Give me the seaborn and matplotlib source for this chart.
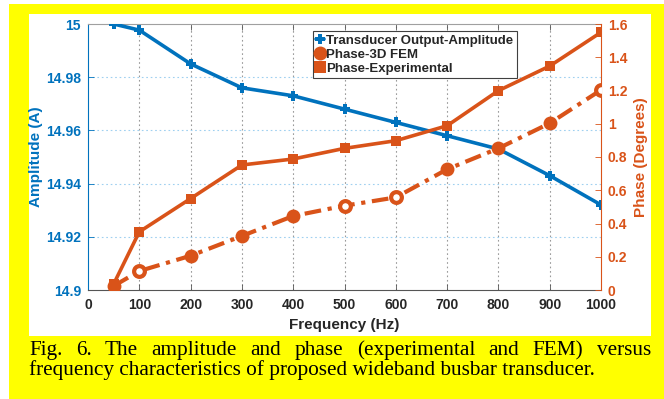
import matplotlib
matplotlib.use("Agg")
import matplotlib.pyplot as plt
import seaborn as sns
import pandas as pd
from matplotlib.patches import Rectangle
from matplotlib.lines import Line2D

# ---- data ----
freq = [50, 100, 200, 300, 400, 500, 600, 700, 800, 900, 1000]
amplitude = [15.000, 14.9977, 14.985, 14.976, 14.973, 14.968, 14.963, 14.958, 14.953, 14.943, 14.932]
phase_fem = [0.024, 0.114, 0.206, 0.325, 0.445, 0.507, 0.557, 0.726, 0.852, 1.003, 1.203]
phase_exp = [0.036, 0.35, 0.55, 0.752, 0.788, 0.852, 0.898, 0.988, 1.199, 1.347, 1.55]
series_names = ["Transducer Output-Amplitude", "Phase-3D FEM", "Phase-Experimental"]
x_ticks = [0, 100, 200, 300, 400, 500, 600, 700, 800, 900, 1000]
amp_ticks = [14.9, 14.92, 14.94, 14.96, 14.98, 15.0]
amp_tick_labels = ["14.9", "14.92", "14.94", "14.96", "14.98", "15"]
phase_ticks = [0, 0.2, 0.4, 0.6, 0.8, 1.0, 1.2, 1.4, 1.6]
phase_tick_labels = ["0", "0.2", "0.4", "0.6", "0.8", "1", "1.2", "1.4", "1.6"]
caption_line1 = "Fig. 6. The amplitude and phase (experimental and FEM) versus"
caption_line2 = "frequency characteristics of proposed wideband busbar transducer."

df = pd.DataFrame({"freq": freq, "amp": amplitude, "fem": phase_fem, "exp": phase_exp})

sns.set_theme(style="white")
plt.rcParams["font.family"] = ["Liberation Sans", "DejaVu Sans"]

BLUE = "#0072BD"
ORANGE = "#D95319"
W, H = 664, 399
fig = plt.figure(figsize=(W / 100, H / 100), dpi=100, facecolor="white")

# yellow frame and white plot box
fig.patches.append(Rectangle((9 / W, 0), (W - 9) / W, (H - 4) / H, transform=fig.transFigure,
                             facecolor="#FFFF00", edgecolor="none", zorder=-10))
fig.patches.append(Rectangle((29 / W, (H - 336) / H), 622 / W, 322 / H, transform=fig.transFigure,
                             facecolor="white", edgecolor="none", zorder=-9))

ax = fig.add_axes([88 / W, (H - 290) / H, 513 / W, 266 / H])
ax.set_facecolor("white")

sns.lineplot(data=df, x="freq", y="amp", ax=ax, color=BLUE, linewidth=2.6,
             marker="P", markersize=6.5, markeredgewidth=0, legend=False, zorder=3)
ax.set_xlim(0, 1000)
ax.set_ylim(14.9, 15.0)
ax.set_xticks(x_ticks)
ax.set_xticklabels([str(t) for t in x_ticks])
ax.set_yticks(amp_ticks)
ax.set_yticklabels(amp_tick_labels)

# grids
for t in x_ticks[1:-1]:
    ax.axvline(t, color="#9a9a9a", linestyle=(0, (1.5, 2.5)), linewidth=0.8, zorder=0)
for t in amp_ticks[1:-1]:
    ax.axhline(t, color="#9fd0f0", linestyle=(0, (1.5, 2.5)), linewidth=0.8, zorder=0)

ax2 = ax.twinx()
sns.lineplot(data=df, x="freq", y="exp", ax=ax2, color=ORANGE, linewidth=2.6,
             marker="s", markersize=7.5, markeredgewidth=0, legend=False, zorder=4)
sns.lineplot(data=df, x="freq", y="fem", ax=ax2, color=ORANGE, linewidth=3.0,
             linestyle=(0, (4, 1.6, 1, 1.6)), legend=False, zorder=4)
hollow = {100, 500, 600, 1000}
filled_df = df[~df["freq"].isin(hollow)]
hollow_df = df[df["freq"].isin(hollow)]
sns.scatterplot(data=filled_df, x="freq", y="fem", ax=ax2, color=ORANGE, s=100,
                edgecolor=ORANGE, linewidth=0, legend=False, zorder=5)
sns.scatterplot(data=hollow_df, x="freq", y="fem", ax=ax2, color="white", s=60,
                edgecolor=ORANGE, linewidth=3.0, legend=False, zorder=5)
ax2.set_ylim(0, 1.6)
ax2.set_yticks(phase_ticks)
ax2.set_yticklabels(phase_tick_labels)
ax2.set_xlim(0, 1000)

# spines / ticks
for s in ["top", "bottom", "left", "right"]:
    ax.spines[s].set_visible(True)
    ax2.spines[s].set_visible(False)
ax.spines["right"].set_visible(False)
ax2.spines["right"].set_visible(True)
ax2.spines["right"].set_color(ORANGE)
ax2.spines["right"].set_linewidth(0.8)
ax.spines["left"].set_color(BLUE)
ax.spines["left"].set_linewidth(0.8)
ax.spines["top"].set_color("#a0a0a0")
ax.spines["top"].set_linewidth(0.8)
ax.spines["bottom"].set_color("#555555")
ax.spines["bottom"].set_linewidth(0.8)

ax.tick_params(axis="x", direction="in", length=4, width=0.6, color="#555555",
               top=True, bottom=True, labelcolor="#262626", labelsize=10, pad=6)
ax.tick_params(axis="y", direction="in", length=4, width=0.6, color=BLUE,
               left=True, right=False, labelcolor=BLUE, labelsize=10, pad=5)
ax2.tick_params(axis="y", direction="in", length=4, width=0.6, color=ORANGE,
                right=True, left=False, labelcolor=ORANGE, labelsize=10, pad=5)
for lbl in ax.get_xticklabels() + ax.get_yticklabels() + ax2.get_yticklabels():
    lbl.set_fontweight("bold")

ax.set_xlabel("Frequency (Hz)", fontsize=11, fontweight="bold", color="#262626", labelpad=4)
ax.set_ylabel("Amplitude (A)", fontsize=11, fontweight="bold", color=BLUE, labelpad=2)
ax2.set_ylabel("Phase (Degrees)", fontsize=11, fontweight="bold", color=ORANGE, labelpad=5)

# legend
handles = [
    Line2D([], [], color=BLUE, marker="P", markersize=7, markeredgewidth=0, linewidth=2.6),
    Line2D([], [], color=ORANGE, marker="o", markersize=10, markeredgewidth=0, linestyle="none"),
    Line2D([], [], color=ORANGE, marker="s", markersize=8, markeredgewidth=0, linestyle="none"),
]
leg = ax2.legend(handles, series_names, loc="upper left",
                 bbox_to_anchor=((313 - 88) / 513, (290 - 31) / 266), borderaxespad=0,
                 frameon=True, fancybox=False, handlelength=0.6, handletextpad=0.15,
                 borderpad=0.25, labelspacing=0.15,
                 prop={"family": ["Liberation Sans"], "weight": "bold", "size": 9.5})
leg.get_frame().set_edgecolor("#404040")
leg.get_frame().set_linewidth(0.8)
leg.get_frame().set_facecolor("white")
leg.get_frame().set_alpha(1)
leg.set_zorder(10)

# caption (justified first line)
renderer = fig.canvas.get_renderer()
serif = ["Liberation Serif", "DejaVu Serif"]
probe = fig.text(0, 0, caption_line2, fontsize=14, family=serif)
w2 = probe.get_window_extent(renderer).width
probe.remove()
cap_size = 14 * 568 / w2
left_px, right_px = 29, 651
fig.text(left_px / W, (H - 375) / H, caption_line2, fontsize=cap_size, family=serif,
         va="baseline", ha="left", color="black")
words = caption_line1.split(" ")
widths = []
for wd in words:
    t = fig.text(0, 0, wd, fontsize=cap_size, family=serif)
    widths.append(t.get_window_extent(renderer).width)
    t.remove()
gap = (right_px - left_px - sum(widths)) / (len(words) - 1)
x = left_px
for wd, wdt in zip(words, widths):
    fig.text(x / W, (H - 355) / H, wd, fontsize=cap_size, family=serif,
             va="baseline", ha="left", color="black")
    x += wdt + gap

fig.savefig("out.png", dpi=100, facecolor="white")
